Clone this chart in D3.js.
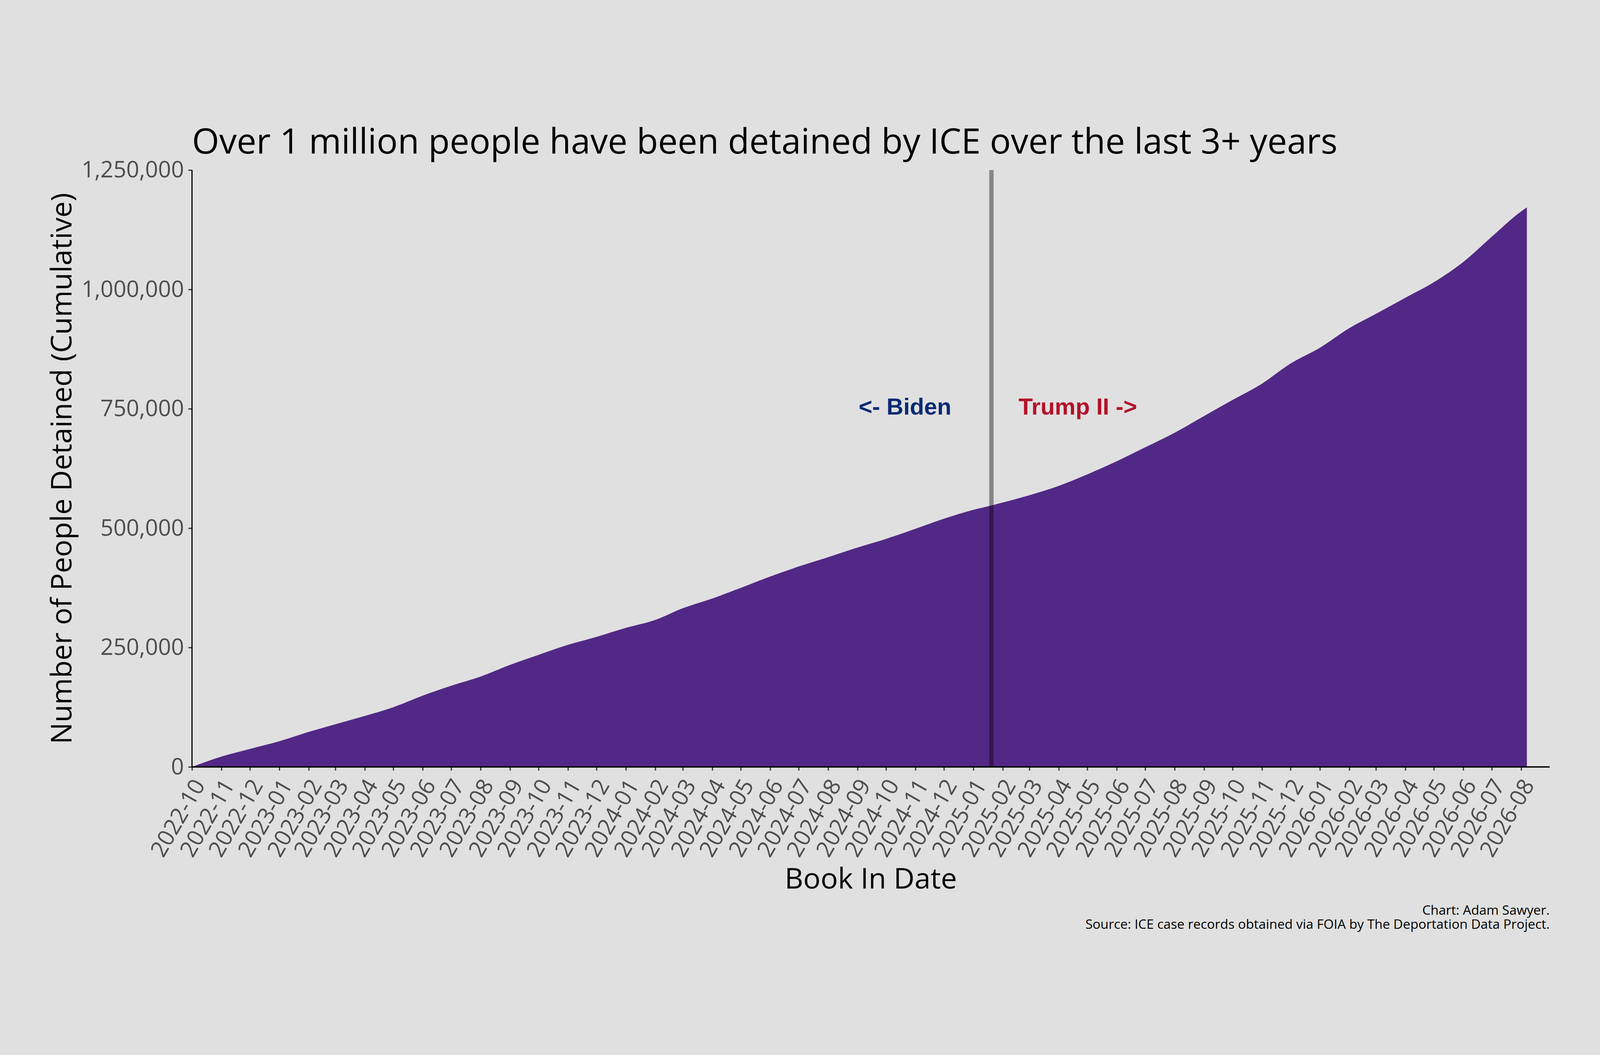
<!DOCTYPE html>
<html lang="en">
<head>
<meta charset="UTF-8">
<meta name="viewport" content="width=device-width,initial-scale=1.0">
<title>ICE detentions cumulative</title>
<script src="https://cdn.jsdelivr.net/npm/d3@7"></script>
<style>
  html, body { margin: 0; padding: 0; background: #e0e0e0; overflow: hidden; width: 100%; height: 100%; }
  svg { display: block; width: 100vw; height: 100vh; }
</style>
</head>
<body>
<svg id="chart" viewBox="0 0 4800 2700" preserveAspectRatio="xMidYMid meet"></svg>
<script>
// cumulative detentions (first of each month + last day)
var dates = ['2022-10-01','2022-11-01','2022-12-01','2023-01-01','2023-02-01','2023-03-01',
  '2023-04-01','2023-05-01','2023-06-01','2023-07-01','2023-08-01','2023-09-01','2023-10-01',
  '2023-11-01','2023-12-01','2024-01-01','2024-02-01','2024-03-01','2024-04-01','2024-05-01',
  '2024-06-01','2024-07-01','2024-08-01','2024-09-01','2024-10-01','2024-11-01','2024-12-01',
  '2025-01-01','2025-01-20','2025-02-01','2025-03-01','2025-04-01','2025-05-01','2025-06-01',
  '2025-07-01','2025-08-01','2025-09-01','2025-10-01','2025-11-01','2025-12-01','2026-01-01',
  '2026-02-01','2026-03-01','2026-04-01','2026-05-01','2026-06-01','2026-07-01','2026-08-01',
  '2026-08-07']
var detained = [0, 21600, 37700, 53800, 73300, 89400,
  106800, 125000, 149400, 170000, 189200, 213700, 234600,
  255600, 272300, 291200, 307900, 332400, 352600, 375000,
  398700, 419700, 439200, 459500, 477500, 498800, 519800,
  538500, 547500, 553700, 569000, 588600, 612700, 640200,
  669300, 699900, 734800, 768500, 802600, 844600, 877800,
  918900, 948800, 982500, 1015100, 1057500, 1110400, 1163500,
  1171800]
var yTicks = [0, 250000, 500000, 750000, 1000000, 1250000]
var xDomain = ['2022-10-01', '2026-08-31']
var inauguration = '2025-01-20'
var notes = [
  { label: '<- Biden', date: '2024-10-21', value: 750000, color: '#0b2a74' },
  { label: 'Trump II ->', date: '2025-04-21', value: 750000, color: '#b3112a' }
]

var parse = d3.utcParse('%Y-%m-%d')
var data = dates.map(function (d, i) { return { date: parse(d), value: detained[i] } })

var svg = d3.select('#chart')
var padL = 576, padR = 4649, padT = 278, padB = 2068
var font = "'Open Sans', 'Noto Sans', sans-serif"

// shrink/grow the font so a text fits the width seen in the picture
function fit(sel, target) {
  var w = sel.node().getComputedTextLength()
  var fs = parseFloat(sel.attr('font-size'))
  sel.attr('font-size', fs * target / w)
  return fs * target / w
}

svg.append('rect').attr('width', 4800).attr('height', 2700).attr('fill', '#e0e0e0')

var x = d3.scaleUtc()
  .domain(xDomain.map(parse))
  .range([padL, padR])
var y = d3.scaleLinear()
  .domain([0, 1250000])
  .range([padB, padT])

var area = d3.area()
  .curve(d3.curveMonotoneX)
  .x(function (d) { return x(d.date) })
  .y0(y(0))
  .y1(function (d) { return y(d.value) })

svg.append('path')
  .datum(data)
  .attr('d', area)
  .attr('fill', '#522886')

// inauguration line
svg.append('line')
  .attr('x1', x(parse(inauguration))).attr('x2', x(parse(inauguration)))
  .attr('y1', y(1250000)).attr('y2', y(0))
  .attr('stroke', '#000')
  .attr('stroke-opacity', 0.4)
  .attr('stroke-width', 13)

// y axis
var yAxis = svg.append('g')
  .attr('transform', 'translate(' + padL + ',0)')
  .call(d3.axisLeft(y).tickValues(yTicks).tickFormat(d3.format(',')).tickSize(11).tickPadding(13))
yAxis.select('.domain').remove()
yAxis.selectAll('.tick line').attr('stroke', '#333').attr('stroke-width', 3.5)
yAxis.selectAll('.tick text')
  .attr('fill', '#4d4d4d')
  .attr('font-family', font)
  .attr('font-size', 68)
svg.append('line')
  .attr('x1', padL).attr('x2', padL)
  .attr('y1', padT).attr('y2', padB + 1.5)
  .attr('stroke', '#000').attr('stroke-width', 3.5)

// x axis
var xAxis = svg.append('g')
  .attr('transform', 'translate(0,' + padB + ')')
  .call(d3.axisBottom(x).ticks(d3.utcMonth.every(1)).tickFormat(d3.utcFormat('%Y-%m')).tickSize(11))
xAxis.select('.domain').remove()
xAxis.selectAll('.tick line').attr('stroke', '#333').attr('stroke-width', 3.5)
xAxis.selectAll('.tick text')
  .attr('fill', '#4d4d4d')
  .attr('font-family', font)
  .attr('font-size', 68)
  .attr('text-anchor', 'end')
  .attr('x', 0).attr('y', 0)
  .attr('dy', '0.71em')
  .attr('transform', 'translate(-1,30) rotate(-60)')
svg.append('line')
  .attr('x1', padL - 1.5).attr('x2', padR)
  .attr('y1', padB).attr('y2', padB)
  .attr('stroke', '#000').attr('stroke-width', 4)

// annotations
svg.selectAll('text.note')
  .data(notes)
  .enter()
  .append('text')
  .attr('class', 'note')
  .attr('x', function (d) { return x(parse(d.date)) })
  .attr('y', function (d) { return y(d.value) })
  .attr('dy', '0.25em')
  .attr('text-anchor', 'middle')
  .attr('font-family', "'Liberation Sans', Arial, sans-serif")
  .attr('font-weight', 'bold')
  .attr('font-size', 70)
  .attr('fill', function (d) { return d.color })
  .text(function (d) { return d.label })

// titles
var title = svg.append('text')
  .attr('x', padL).attr('y', 228)
  .attr('font-family', font).attr('font-size', 110).attr('fill', '#000')
  .text('Over 1 million people have been detained by ICE over the last 3+ years')
fit(title, 3437)

var yTitle = svg.append('text')
  .attr('transform', 'translate(214,' + ((padT + padB) / 2) + ') rotate(-90)')
  .attr('text-anchor', 'middle')
  .attr('font-family', font).attr('font-size', 88).attr('fill', '#000')
  .text('Number of People Detained (Cumulative)')
fit(yTitle, 1653)

var xTitle = svg.append('text')
  .attr('x', (padL + padR) / 2).attr('y', 2433)
  .attr('text-anchor', 'middle')
  .attr('font-family', font).attr('font-size', 88).attr('fill', '#000')
  .text('Book In Date')
fit(xTitle, 517)

var src = svg.append('text')
  .attr('x', padR).attr('y', 2554)
  .attr('text-anchor', 'end')
  .attr('font-family', font).attr('font-size', 40).attr('fill', '#000')
  .text('Source: ICE case records obtained via FOIA by The Deportation Data Project.')
var capSize = fit(src, 1393)
svg.append('text')
  .attr('x', padR).attr('y', 2511)
  .attr('text-anchor', 'end')
  .attr('font-family', font).attr('font-size', capSize).attr('fill', '#000')
  .text('Chart: Adam Sawyer.')
</script>
</body>
</html>
